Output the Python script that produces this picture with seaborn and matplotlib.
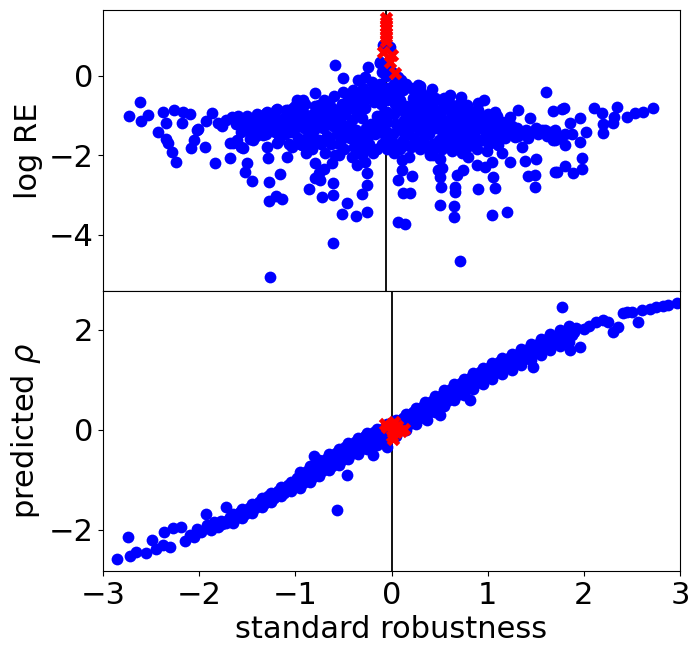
import numpy as np
import seaborn as sns
import matplotlib.pyplot as plt

# ---- top panel (log RE) ----
# left wing
lw_x = [-2.73, -2.62, -2.60, -2.53, -2.38, -2.26, -2.17, -2.10, -2.35, -2.18, -2.43, -2.34, -2.32, -2.28,
        -2.24, -1.87, -1.93, -2.01, -2.05, -2.08, -1.94, -1.84, -1.68, -1.66, -1.80, -2.02, -1.72, -1.76]
lw_y = [-1.01, -0.65, -1.13, -0.98, -0.91, -0.86, -0.91, -0.96, -1.18, -1.18, -1.41, -1.58, -1.69, -1.91,
        -2.16, -0.93, -1.13, -1.33, -1.61, -1.81, -1.79, -2.19, -2.06, -1.03, -1.18, -1.36, -1.10, -1.25]

# scattered points, left of zero
ls_x = [-1.54, -1.39, -1.29, -1.19, -1.08, -0.98, -0.92, -0.80, -0.67, -1.02, -0.59, -0.50, -0.35, -0.28,
        -0.24, -0.12, -1.65, -1.54, -1.50, -1.52, -1.45, -1.27, -1.16, -1.09, -1.28, -1.27, -1.20, -1.14,
        -1.26, -1.29, -1.19, -1.34, -1.45, -1.44, -1.61, -1.57, -1.68, -0.86, -0.80, -0.74, -0.72, -0.61,
        -0.61, -0.52, -0.46, -0.37, -0.25, -0.31, -0.61, -0.28, -0.25, -0.25, -0.80, -0.70, -0.62, -0.55,
        -0.75, -0.31, -0.36]
ls_y = [-1.11, -0.98, -0.91, -0.83, -0.86, -0.60, -0.60, -0.43, -0.73, -0.81, 0.28, -0.05, -0.10, -0.03,
        0.23, 0.33, -1.69, -1.81, -2.19, -2.42, -2.64, -2.67, -2.47, -2.04, -2.06, -3.14, -3.02, -3.09,
        -5.06, -1.79, -1.69, -1.48, -1.28, -1.61, -1.61, -1.79, -1.69, -2.84, -2.57, -2.62, -3.04, -2.69,
        -2.99, -3.47, -3.20, -3.52, -3.42, -2.97, -4.20, -2.16, -2.44, -2.74, -2.20, -2.35, -2.20, -2.00,
        -2.45, -1.94, -2.25]

# dense core, left of zero
cl_x = [-1.60, -1.62, -1.57, -1.50, -1.48, -1.52, -1.47, -1.40, -1.42, -1.38, -1.41,
        -1.30, -1.32, -1.28, -1.31, -1.20, -1.22, -1.18, -1.21, -1.17,
        -1.10, -1.12, -1.08, -1.11, -1.07, -1.00, -1.02, -0.98, -1.01, -0.97, -1.03,
        -0.90, -0.92, -0.88, -0.91, -0.87, -0.93, -0.89, -0.80, -0.82, -0.78, -0.81, -0.77, -0.83,
        -0.70, -0.72, -0.68, -0.71, -0.67, -0.73, -0.69, -0.60, -0.62, -0.58, -0.61, -0.57, -0.63, -0.59,
        -0.50, -0.52, -0.48, -0.51, -0.47, -0.53, -0.49,
        -0.40, -0.42, -0.38, -0.41, -0.37, -0.43, -0.39, -0.41,
        -0.30, -0.32, -0.28, -0.31, -0.27, -0.33, -0.29, -0.31,
        -0.20, -0.22, -0.18, -0.21, -0.17, -0.23, -0.19,
        -0.10, -0.12, -0.08, -0.11, -0.09, -0.12, -0.08, -0.10,
        -0.05, -0.06, -0.04, -0.05,
        -1.55, -1.45, -1.35, -1.25, -1.15, -1.05, -0.95, -0.85, -0.75, -0.65, -0.55, -0.45, -0.35, -0.25,
        -0.15, -1.25, -1.05, -0.85, -0.65, -0.45, -0.25, -0.15, -0.95, -0.75, -0.55, -0.35,
        -1.55, -1.45, -1.35, -1.25, -1.15, -1.05, -0.95, -0.95, -0.85, -0.85, -0.75, -0.75, -0.65, -0.65,
        -0.55, -0.55, -0.45, -0.45, -0.35, -0.35, -0.35, -0.25, -0.25, -0.15, -0.15, -0.15, -0.05, -0.05,
        -0.05, -0.05, -0.05]
cl_y = [-1.00, -1.22, -1.40, -1.02, -1.17, -1.35, -1.58, -0.95, -1.12, -1.30, -1.50,
        -0.92, -1.06, -1.25, -1.45, -0.86, -1.02, -1.20, -1.40, -1.62,
        -0.86, -1.05, -1.25, -1.46, -1.70, -0.76, -0.95, -1.15, -1.35, -1.55, -1.80,
        -0.70, -0.90, -1.10, -1.30, -1.50, -1.75, -1.95, -0.76, -0.96, -1.15, -1.35, -1.60, -1.85,
        -0.60, -0.85, -1.05, -1.30, -1.50, -1.70, -1.95, -0.50, -0.80, -1.00, -1.25, -1.45, -1.70, -2.00,
        -0.40, -0.70, -0.95, -1.20, -1.40, -1.60, -1.85,
        -0.35, -0.60, -0.85, -1.10, -1.35, -1.55, -1.80, -2.05,
        -0.30, -0.55, -0.80, -1.05, -1.30, -1.50, -1.75, -2.00,
        -0.15, -0.40, -0.65, -1.20, -1.45, -1.70, -1.95,
        0.10, -0.20, -0.45, -0.70, -0.95, -1.20, -1.45, -1.70,
        0.30, 0.00, -0.30, -0.60,
        -1.10, -1.08, -1.15, -1.12, -1.10, -1.15, -1.05, -1.00, -0.95, -0.90, -0.85, -0.80, -0.75, -0.55,
        -0.30, -1.35, -1.40, -1.45, -1.55, -1.50, -1.55, -1.00, -1.70, -1.60, -1.70, -1.65,
        -1.28, -1.38, -1.35, -0.98, -1.30, -0.88, -1.25, -0.85, -1.25, -1.65, -1.25, -0.72, -1.20, -0.65,
        -1.10, -1.35, -0.55, -1.25, -0.45, -0.95, -1.90, -1.30, -1.85, -0.55, -1.30, -1.85, -0.90, -1.15,
        -1.40, -1.60, -1.85]

# dense core, right of zero
cr_x = [0.03, 0.02, 0.04, 0.03, 0.05, 0.02, 0.04, 0.03,
        0.10, 0.12, 0.09, 0.11, 0.13, 0.10, 0.12, 0.09,
        0.20, 0.22, 0.18, 0.21, 0.19, 0.23, 0.20, 0.18,
        0.30, 0.32, 0.28, 0.31, 0.29, 0.33, 0.30,
        0.40, 0.42, 0.38, 0.41, 0.39, 0.43, 0.40,
        0.50, 0.52, 0.48, 0.51, 0.49, 0.53, 0.50,
        0.60, 0.62, 0.58, 0.61, 0.59, 0.63,
        0.70, 0.72, 0.68, 0.71, 0.69, 0.73,
        0.80, 0.82, 0.78, 0.81, 0.79, 0.90, 0.92, 0.88, 0.91, 0.89,
        1.00, 1.02, 0.98, 1.01, 0.99, 1.10, 1.12, 1.08, 1.11,
        1.20, 1.22, 1.18, 1.30, 1.32, 1.40, 1.42, 1.50, 1.52, 1.60, 1.62, 1.70, 1.68, 1.80,
        -0.09, -0.02, -0.12, 0.00, 0.07, 0.28,
        0.07, 0.15, 0.25, 0.35, 0.45, 0.55, 0.65, 0.75, 0.85, 0.95, 1.05, 0.15, 0.35, 0.55, 0.75, 0.95,
        1.25, 1.35, 1.45, 1.55, 1.65,
        0.07, 0.07, 0.07, 0.07, 0.15, 0.15, 0.15, 0.15, 0.25, 0.25, 0.25, 0.25, 0.35, 0.35, 0.35, 0.35,
        0.45, 0.45, 0.45, 0.45, 0.55, 0.55, 0.55, 0.65, 0.65, 0.65, 0.75, 0.75, 0.75, 0.85, 0.85, 0.85,
        0.95, 0.95, 1.05, 1.05, 1.15, 1.25]
cr_y = [-0.20, -0.45, -0.70, -0.95, -1.20, -1.45, -1.70, -1.95,
        -0.10, -0.35, -0.60, -0.85, -1.10, -1.35, -1.60, -1.85,
        -0.30, -0.55, -0.80, -1.05, -1.30, -1.55, -1.80, -2.05,
        -0.35, -0.60, -0.85, -1.10, -1.35, -1.60, -1.85,
        -0.45, -0.70, -0.95, -1.20, -1.45, -1.70, -1.95,
        -0.60, -0.85, -1.10, -1.35, -1.60, -1.85, -2.10,
        -0.65, -0.90, -1.15, -1.40, -1.65, -1.90,
        -0.70, -0.95, -1.20, -1.45, -1.70, -1.95,
        -0.80, -1.05, -1.30, -1.55, -1.80, -0.85, -1.10, -1.35, -1.60, -1.85,
        -0.95, -1.20, -1.45, -1.70, -1.90, -1.00, -1.25, -1.50, -1.75,
        -1.15, -1.35, -1.55, -1.30, -1.50, -1.35, -1.55, -1.30, -1.45, -1.35, -1.50, -1.40, -1.60, -1.45,
        0.78, 0.73, 0.35, 0.10, -0.03, -0.23,
        -0.55, -0.75, -0.95, -0.98, -1.05, -1.10, -1.12, -1.18, -1.25, -1.30, -1.35, -1.45, -1.50, -1.55,
        -1.58, -1.62, -1.40, -1.42, -1.40, -1.38, -1.42,
        -0.30, -0.80, -1.30, -1.80, -0.20, -0.95, -1.20, -1.75, -0.40, -0.70, -1.20, -1.70, -0.50, -0.75,
        -1.25, -1.75, -0.55, -0.85, -1.30, -1.80, -0.75, -1.25, -1.75, -0.80, -1.30, -1.60, -0.85, -1.35,
        -1.60, -0.95, -1.45, -1.70, -1.05, -1.60, -1.10, -1.60, -1.40, -1.25]

# scattered points, right of zero
rs_x = [0.30, 0.42, 0.55, 0.61, 0.72, 0.79, 0.90, 0.96, 1.08, 1.15, 1.23, 1.32, 1.44, 1.61, 1.68, 1.57,
        1.70, 1.28, 1.36, 1.23, 1.39, 1.50, 1.42, 1.49, 1.49, 1.70, 1.15, 1.05, 1.06, 1.08, 0.90, 0.66,
        0.66, 0.51, 0.50, 0.65, 0.65, 1.05, 1.20, 0.89, 0.74, 0.68, 0.50, 0.48, 0.40, 0.80, 0.97, 0.71,
        0.07, 0.14, 0.12, 0.19, 0.07, 0.21, 0.11, 0.11, 0.43, 0.53]
rs_y = [-0.25, -0.33, -0.55, -0.48, -0.53, -0.73, -0.68, -0.60, -0.91, -1.16, -1.03, -0.86, -1.06, -0.40,
        -0.88, -1.36, -1.36, -1.53, -1.79, -2.16, -2.14, -2.09, -2.52, -2.49, -2.79, -2.42, -1.94, -2.16,
        -2.54, -2.82, -2.84, -2.79, -2.92, -2.79, -3.25, -3.27, -3.54, -3.50, -3.42, -2.24, -2.36, -2.49,
        -2.54, -2.36, -1.99, -2.04, -2.29, -4.65, -3.67, -3.72, -2.94, -2.94, -2.62, -2.52, -2.36, -2.11,
        -1.99, -2.31]

# right wing
rw_x = [1.77, 1.96, 1.86, 2.02, 2.11, 2.19, 2.35, 2.31, 2.30, 2.20, 2.20, 2.45, 2.53, 2.62, 2.72, 1.96,
        1.98, 1.98, 1.89, 1.80, 1.72, 1.80, 1.70, 1.79, 1.88, 1.75]
rw_y = [-0.83, -1.06, -1.18, -1.41, -0.81, -0.93, -0.78, -1.03, -1.18, -1.21, -1.43, -1.03, -0.93, -0.91,
        -0.81, -1.66, -2.06, -2.34, -2.44, -2.26, -2.42, -1.74, -1.61, -0.81, -1.45, -1.55]

# highlighted (red) points, top
top_red_x = [-0.057, -0.056, -0.058, -0.057, -0.055, -0.057, -0.056, -0.09, 0.00, -0.02, 0.04]
top_red_y = [1.46, 1.36, 1.27, 1.18, 1.08, 0.98, 0.88, 0.60, 0.53, 0.35, 0.08]
top_vline = -0.055

# ---- bottom panel (predicted rho) ----
band_x = [-1.72, -1.70, -1.68, -1.62, -1.60, -1.58, -1.52, -1.50, -1.48, -1.42, -1.40, -1.38,
          -1.32, -1.30, -1.28, -1.22, -1.20, -1.18, -1.12, -1.10, -1.08, -1.02, -1.00, -0.98,
          -0.92, -0.90, -0.88, -0.82, -0.80, -0.78, -0.72, -0.70, -0.68, -0.62, -0.60, -0.58,
          -0.52, -0.50, -0.48, -0.42, -0.40, -0.38, -0.32, -0.30, -0.28, -0.22, -0.20, -0.18,
          -0.12, -0.10, -0.08, -0.02, 0.00, 0.02, 0.08, 0.10, 0.12, 0.18, 0.20, 0.22,
          0.28, 0.30, 0.32, 0.38, 0.40, 0.42, 0.48, 0.50, 0.52, 0.58, 0.60, 0.62,
          0.68, 0.70, 0.72, 0.78, 0.80, 0.82, 0.88, 0.90, 0.92, 0.98, 1.00, 1.02,
          1.08, 1.10, 1.12, 1.18, 1.20, 1.22, 1.28, 1.30, 1.32, 1.38, 1.40, 1.42,
          1.48, 1.50, 1.52, 1.58, 1.60, 1.62, 1.68, 1.70, 1.72, 1.78, 1.80, 1.82,
          1.88, 1.90, 1.92]
band_y = [-1.87, -1.81, -1.75, -1.77, -1.71, -1.65, -1.68, -1.62, -1.56, -1.57, -1.51, -1.45,
          -1.47, -1.40, -1.33, -1.36, -1.29, -1.22, -1.26, -1.18, -1.10, -1.15, -1.06, -0.97,
          -1.06, -0.94, -0.83, -0.94, -0.82, -0.70, -0.82, -0.70, -0.58, -0.72, -0.59, -0.47,
          -0.60, -0.47, -0.35, -0.49, -0.36, -0.24, -0.39, -0.26, -0.13, -0.30, -0.17, -0.04,
          -0.21, -0.09, 0.04, -0.12, 0.00, 0.12, -0.01, 0.11, 0.23, 0.11, 0.23, 0.35,
          0.22, 0.34, 0.46, 0.34, 0.46, 0.58, 0.46, 0.58, 0.70, 0.58, 0.70, 0.82,
          0.70, 0.82, 0.94, 0.82, 0.93, 1.04, 0.93, 1.04, 1.15, 1.04, 1.15, 1.26,
          1.13, 1.24, 1.35, 1.23, 1.33, 1.43, 1.32, 1.42, 1.52, 1.42, 1.52, 1.62,
          1.53, 1.62, 1.71, 1.63, 1.72, 1.81, 1.72, 1.80, 1.88, 1.81, 1.88, 1.95,
          1.89, 1.96, 2.03]

# edges of the band, between the columns above
edge_x = [-1.65, -1.65, -1.55, -1.55, -1.45, -1.45, -1.35, -1.35, -1.25, -1.25, -1.15, -1.15,
          -1.05, -1.05, -0.95, -0.95, -0.85, -0.85, -0.75, -0.75, -0.65, -0.65, -0.55, -0.55,
          -0.45, -0.45, -0.35, -0.35, -0.25, -0.25, -0.15, -0.15, -0.05, -0.05, 0.05, 0.05,
          0.15, 0.15, 0.25, 0.25, 0.35, 0.35, 0.45, 0.45, 0.55, 0.55, 0.65, 0.65,
          0.75, 0.75, 0.85, 0.85, 0.95, 0.95, 1.05, 1.05, 1.15, 1.15, 1.25, 1.25,
          1.35, 1.35, 1.45, 1.45, 1.55, 1.55, 1.65, 1.65, 1.75, 1.75, 1.85, 1.85]
edge_y = [-1.86, -1.68, -1.76, -1.58, -1.66, -1.48, -1.55, -1.37, -1.44, -1.26, -1.33, -1.15,
          -1.22, -1.04, -1.17, -0.85, -1.05, -0.73, -0.93, -0.61, -0.81, -0.49, -0.70, -0.38,
          -0.58, -0.26, -0.48, -0.16, -0.38, -0.06, -0.30, 0.02, -0.21, 0.11, -0.12, 0.20,
          0.00, 0.32, 0.11, 0.43, 0.23, 0.55, 0.35, 0.67, 0.47, 0.79, 0.59, 0.91,
          0.70, 1.02, 0.81, 1.13, 0.92, 1.24, 1.02, 1.34, 1.11, 1.43, 1.20, 1.52,
          1.30, 1.62, 1.40, 1.72, 1.50, 1.82, 1.59, 1.91, 1.67, 1.99, 1.75, 2.07]

low_x = [-2.85, -2.74, -2.72, -2.66, -2.55, -2.49, -2.45, -2.38, -2.37, -2.30, -2.27, -2.19, -2.15,
         -2.10, -2.05, -2.02, -1.98, -1.93, -1.92, -1.88, -1.85, -1.80, -1.77, -1.72, -1.76]
low_y = [-2.59, -2.15, -2.52, -2.44, -2.46, -2.20, -2.38, -2.30, -2.05, -2.34, -1.97, -1.95, -2.22,
         -2.10, -2.15, -1.98, -2.05, -1.69, -1.90, -2.00, -1.85, -1.95, -1.82, -1.55, -1.88]

high_x = [2.00, 2.05, 2.13, 2.20, 2.25, 2.36, 2.41, 2.45, 2.50, 2.60, 2.69, 2.75, 2.82, 2.88, 2.97,
          1.77, -0.81, -0.57, -0.05, -0.19, -0.46, 0.37, 0.50, 0.82, 1.47, 1.86, 1.96, 2.30, 2.56]
high_y = [2.02, 2.07, 2.15, 2.20, 2.15, 2.05, 2.33, 2.35, 2.36, 2.40, 2.42, 2.46, 2.48, 2.50, 2.53,
          2.45, -0.52, -1.60, -0.35, -0.51, -0.91, 0.19, 0.29, 0.59, 1.25, 1.59, 1.65, 1.95, 2.15]

bot_red_x = [0.00, 0.02, 0.05, 0.10, 0.13, -0.05, 0.03, 0.00, 0.06, 0.02, -0.07]
bot_red_y = [0.10, 0.00, -0.05, -0.03, 0.02, 0.05, 0.15, -0.12, 0.08, -0.18, 0.12]
bot_vline = 0.0

top_x = lw_x + ls_x + cl_x + cr_x + rs_x + rw_x
top_y = lw_y + ls_y + cl_y + cr_y + rs_y + rw_y
bot_x = low_x + band_x + edge_x + high_x
bot_y = low_y + band_y + edge_y + high_y

fs = 22
fig = plt.figure(figsize=(6.9, 6.46), dpi=100)
ax1 = fig.add_axes([0.1493, 0.5503, 0.8362, 0.4342])
ax2 = fig.add_axes([0.1493, 0.1161, 0.8362, 0.4342])

sns.scatterplot(x=top_x, y=top_y, ax=ax1, color="blue", s=72, linewidth=0, zorder=2)
sns.scatterplot(x=top_red_x, y=top_red_y, ax=ax1, color="red", marker="X", s=95, linewidth=0, zorder=3)
ax1.axvline(top_vline, color="black", lw=1.3, zorder=1)
ax1.set_xlim(-3, 3)
ax1.set_ylim(-5.40, 1.66)
ax1.set_xticks([])
ax1.set_yticks([-4, -2, 0])
ax1.set_ylabel("log RE", fontsize=fs)
ax1.tick_params(labelsize=fs)

sns.scatterplot(x=bot_x, y=bot_y, ax=ax2, color="blue", s=72, linewidth=0, zorder=2)
sns.scatterplot(x=bot_red_x, y=bot_red_y, ax=ax2, color="red", marker="X", s=95, linewidth=0, zorder=3)
ax2.axvline(bot_vline, color="black", lw=1.3, zorder=1)
ax2.set_xlim(-3, 3)
ax2.set_ylim(-2.83, 2.79)
ax2.set_xticks([-3, -2, -1, 0, 1, 2, 3])
ax2.set_yticks([-2, 0, 2])
ax2.set_ylabel(r"predicted $\rho$", fontsize=fs)
ax2.set_xlabel("standard robustness", fontsize=fs)
ax2.tick_params(labelsize=fs)

fig.align_ylabels([ax1, ax2])
fig.savefig("out.png", dpi=100)
